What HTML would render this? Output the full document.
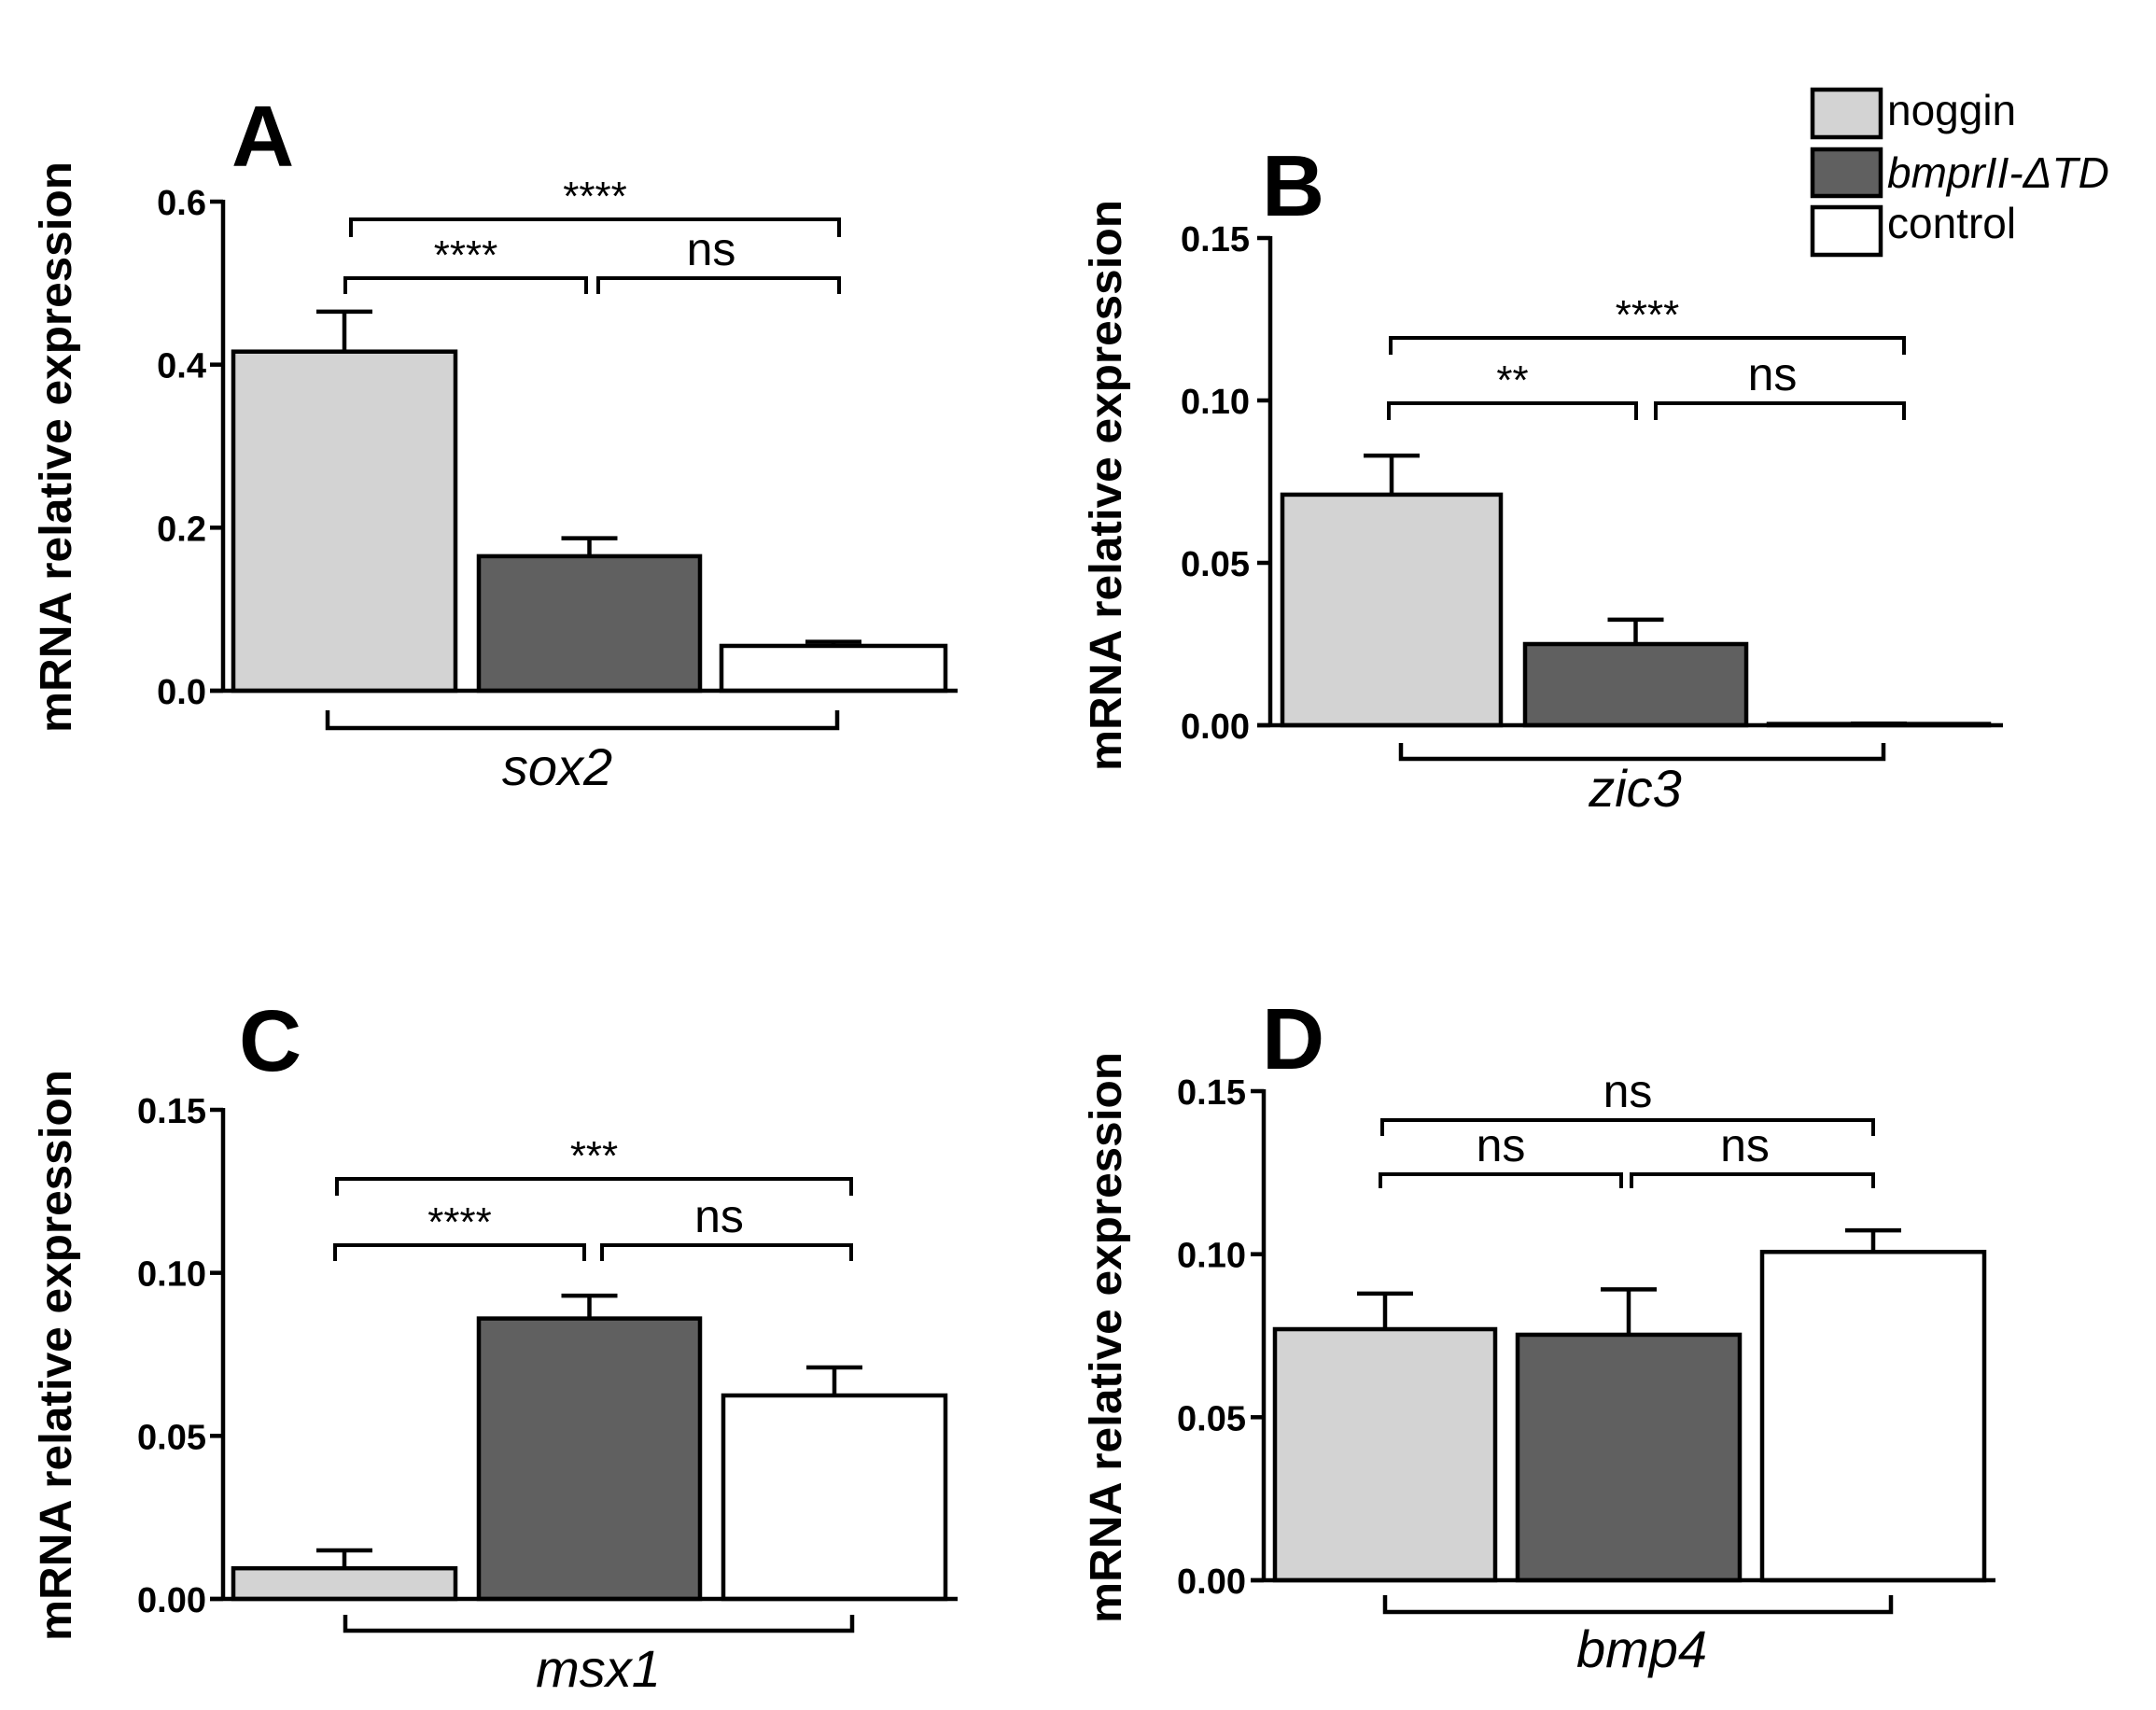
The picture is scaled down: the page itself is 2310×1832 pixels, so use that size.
<!DOCTYPE html>
<html><head><meta charset="utf-8"><style>
html,body{margin:0;padding:0;background:#fff}
svg{display:block}
text{font-family:"Liberation Sans",Arial,sans-serif}
</style></head><body>
<svg id="fig" width="2310" height="1832" viewBox="0 0 2310 1832" xmlns="http://www.w3.org/2000/svg">
<rect width="2310" height="1832" fill="#fff"/>
<g>
 <g>
  <rect x="1942" y="96" width="73" height="51" fill="#d3d3d3" stroke="#000" stroke-width="4.5"/>
  <text x="2022" y="134" font-size="46">noggin</text></g>
 <g>
  <rect x="1942" y="160" width="73" height="50" fill="#606060" stroke="#000" stroke-width="4.5"/>
  <text x="2022" y="201" font-size="46" font-style="italic">bmprII-ΔTD</text></g>
 <g>
  <rect x="1942" y="222" width="73" height="51" fill="#fff" stroke="#000" stroke-width="4.5"/>
  <text x="2022" y="255" font-size="46">control</text></g>
</g>
</svg>
<script>
// ---- data ----
const groups = ["noggin", "bmprII-dTD", "control"];
const genes = ["sox2", "zic3", "msx1", "bmp4"];
const panelLetters = ["A", "B", "C", "D"];
const valuesA = [0.416, 0.165, 0.055];
const errorsA = [0.049, 0.022, 0.005];
const valuesB = [0.071, 0.025, 0.0004];
const errorsB = [0.012, 0.0075, 0.0001];
const valuesC = [0.0094, 0.086, 0.0624];
const errorsC = [0.0055, 0.007, 0.0086];
const valuesD = [0.077, 0.0753, 0.1007];
const errorsD = [0.0109, 0.0139, 0.0066];
const ticksA = ["0.0", "0.2", "0.4", "0.6"];
const ticksBCD = ["0.00", "0.05", "0.10", "0.15"];
const maxA = 0.6, maxBCD = 0.15;
const sigA = ["****", "****", "ns"];
const sigB = ["****", "**", "ns"];
const sigC = ["***", "****", "ns"];
const sigD = ["ns", "ns", "ns"];

// ---- layout (pixels) ----
const layouts = [
 {ax:239, y0:740, yTop:216, xEnd:1026, bars:[[250,488],[513,750],[773,1013]], tickR:221,
  top:[376,899,235,254], lowL:[370,628,298,315], lowR:[641,899,298,315], bot:[351,897,780,761],
  geneX:597, geneY:841, letter:[250,178], titleX:59, titleY:479},
 {ax:1361, y0:777, yTop:255, xEnd:2146, bars:[[1374,1608],[1634,1871],[1895,2131]], tickR:1339,
  top:[1490,2040,362,380], lowL:[1488,1753,432,450], lowR:[1774,2040,432,450], bot:[1501,2018,813,796],
  geneX:1752, geneY:864, letter:[1354,231], titleX:1184, titleY:520},
 {ax:239, y0:1713, yTop:1189, xEnd:1026, bars:[[250,488],[513,750],[775,1013]], tickR:221,
  top:[361,912,1263,1281], lowL:[359,626,1334,1351], lowR:[645,912,1334,1351], bot:[370,913,1747,1730],
  geneX:641, geneY:1807, letter:[258,1147], titleX:59, titleY:1452},
 {ax:1354, y0:1693, yTop:1169, xEnd:2138, bars:[[1366,1602],[1626,1864],[1888,2126]], tickR:1335,
  top:[1481,2007,1200,1217], lowL:[1479,1737,1258,1273], lowR:[1748,2007,1258,1273], bot:[1484,2026,1727,1709],
  geneX:1759, geneY:1786, letter:[1354,1145], titleX:1184, titleY:1433}
];
const allValues = [valuesA, valuesB, valuesC, valuesD];
const allErrors = [errorsA, errorsB, errorsC, errorsD];
const allTicks = [ticksA, ticksBCD, ticksBCD, ticksBCD];
const allMax = [maxA, maxBCD, maxBCD, maxBCD];
const allSig = [sigA, sigB, sigC, sigD];
const fills = ["#d3d3d3", "#606060", "#ffffff"];

const NS = "http://www.w3.org/2000/svg";
const svg = document.getElementById("fig");
function mk(tag, attrs, parent) {
  const e = document.createElementNS(NS, tag);
  for (const k in attrs) e.setAttribute(k, attrs[k]);
  parent.appendChild(e);
  return e;
}
function bracket(g, b, down, w) {
  return mk("path", {d:`M${b[0]} ${b[3]} L${b[0]} ${b[2]} L${b[1]} ${b[2]} L${b[1]} ${b[3]}`,
    fill:"none", stroke:"#000", "stroke-width":w}, g);
}
function sigText(g, label, xc, yLine, name) {
  const isStar = label.indexOf("*") >= 0;
  const t = mk("text", {x:xc, "text-anchor":"middle",
    y: isStar ? yLine - 10 : yLine - 14, "font-size": isStar ? 44 : 50}, g);
  t.textContent = label;
  
  
}

layouts.forEach((L, p) => {
  const g = mk("g", {}, svg);
  
  
  const maxV = allMax[p];
  const yS = v => L.y0 - (v / maxV) * (L.y0 - L.yTop);
  const vals = allValues[p], errs = allErrors[p], ticks = allTicks[p];

  vals.forEach((v, i) => {
    const [x1, x2] = L.bars[i];
    const xc = (x1 + x2) / 2;
    const eb = mk("path", {d:`M${xc} ${yS(v)} L${xc} ${yS(v + errs[i])} M${xc - 30} ${yS(v + errs[i])} L${xc + 30} ${yS(v + errs[i])}`,
      stroke:"#000", "stroke-width":4.5, fill:"none"}, g);
    
    
    const r = mk("rect", {x:x1, y:yS(v), width:x2 - x1, height:Math.max(L.y0 - yS(v), 0.5),
      fill:fills[i], stroke:"#000", "stroke-width":4.5}, g);
    
    
  });

  const yAx = mk("line", {x1:L.ax, y1:L.y0 + 2, x2:L.ax, y2:L.yTop - 2, stroke:"#000", "stroke-width":4.5}, g);
  
  
  const xAx = mk("line", {x1:L.ax - 14, y1:L.y0, x2:L.xEnd, y2:L.y0, stroke:"#000", "stroke-width":4.5}, g);
  
  
  ticks.forEach((lab, i) => {
    const v = maxV * i / (ticks.length - 1);
    const y = yS(v);
    mk("line", {x1:L.ax - 14, y1:y, x2:L.ax, y2:y, stroke:"#000", "stroke-width":4.5}, g);
    const t = mk("text", {x:L.tickR, y:y + 14, "text-anchor":"end", "font-size":38, "font-weight":"bold"}, g);
    t.textContent = lab;
    
    
  });

  const yt = mk("text", {x:0, y:0, "text-anchor":"middle", "font-size":48, "font-weight":"bold",
    textLength:612, lengthAdjust:"spacingAndGlyphs",
    transform:`translate(${L.titleX + 17},${L.titleY}) rotate(-90)`}, g);
  yt.textContent = "mRNA relative expression";
  
  

  const pl = mk("text", {x:L.letter[0] - 2, y:L.letter[1], "font-size":93, "font-weight":"bold"}, g);
  pl.textContent = panelLetters[p];
  
  

  const sig = allSig[p];
  const b1 = bracket(g, L.top, true, 4);
  
  
  const b2 = bracket(g, L.lowL, true, 4);
  
  
  const b3 = bracket(g, L.lowR, true, 4);
  
  
  sigText(g, sig[0], (L.top[0] + L.top[1]) / 2, L.top[2], 'significance-top');
  sigText(g, sig[1], (L.lowL[0] + L.lowL[1]) / 2, L.lowL[2], 'significance-left');
  sigText(g, sig[2], (L.lowR[0] + L.lowR[1]) / 2 - 8, L.lowR[2], 'significance-right');

  const gb = bracket(g, L.bot, false, 4.5);
  
  
  const gl = mk("text", {x:L.geneX, y:L.geneY, "text-anchor":"middle", "font-size":56, "font-style":"italic"}, g);
  gl.textContent = genes[p];
  
  
});
</script>
</body></html>
